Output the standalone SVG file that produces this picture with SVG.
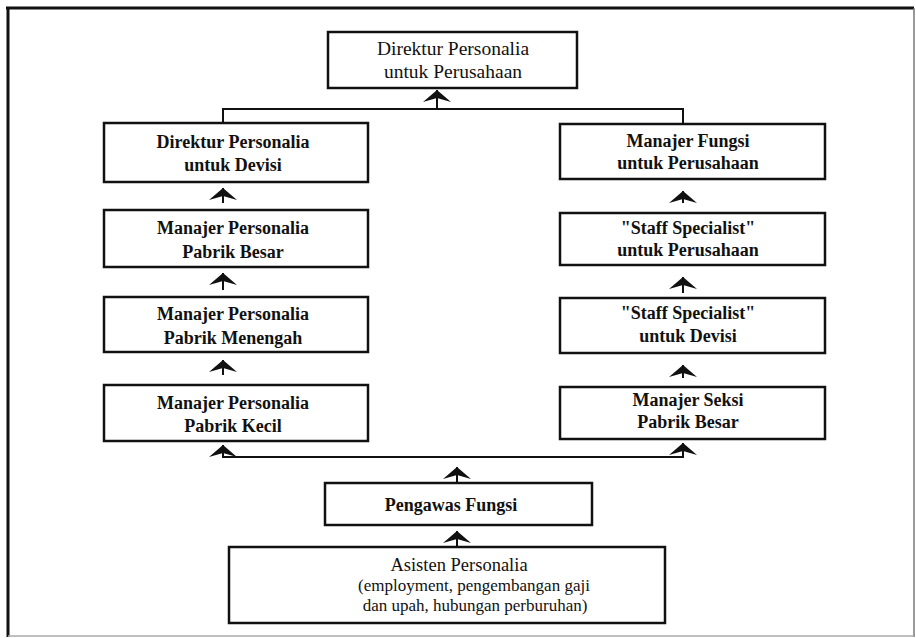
<svg xmlns="http://www.w3.org/2000/svg" width="916" height="638" viewBox="0 0 916 638">
<style>
.box{fill:#fff;stroke:#111;stroke-width:2.5}
.t{font-family:"Liberation Serif","Times New Roman",serif;fill:#111;text-anchor:middle}
.b{font-weight:bold;font-size:18px}
.n{font-weight:normal}
.c{fill:none;stroke:#111;stroke-width:2}
</style>
<defs>
<marker id="ah" viewBox="0 0 12 28" refX="12" refY="14" markerWidth="12" markerHeight="28" markerUnits="userSpaceOnUse" orient="auto">
<path d="M12,14 L0,0 L4,14 L0,28 Z" fill="#111"/>
</marker>
</defs>
<rect width="916" height="638" fill="#fff"/>
<g id="frame">
<line x1="6" y1="8" x2="914" y2="8" stroke="#111" stroke-width="3"/>
<line x1="8" y1="7" x2="8" y2="637" stroke="#111" stroke-width="3"/>
<line x1="914" y1="8" x2="914" y2="637" stroke="#777" stroke-width="1.5"/>
<line x1="8" y1="636" x2="914" y2="636" stroke="#aaa" stroke-width="1.5"/>
</g>
<g id="connectors">
<path class="c" d="M223,123 V109 H683 V124"/>
<line class="c" x1="437" y1="109" x2="437" y2="90" marker-end="url(#ah)"/>
<line class="c" x1="223" y1="203" x2="223" y2="188" marker-end="url(#ah)"/>
<line class="c" x1="223" y1="290" x2="223" y2="273" marker-end="url(#ah)"/>
<line class="c" x1="223" y1="375" x2="223" y2="360" marker-end="url(#ah)"/>
<line class="c" x1="683" y1="203" x2="683" y2="191" marker-end="url(#ah)"/>
<line class="c" x1="683" y1="293" x2="683" y2="277" marker-end="url(#ah)"/>
<line class="c" x1="683" y1="378" x2="683" y2="365" marker-end="url(#ah)"/>
<line class="c" x1="222" y1="457" x2="684" y2="457"/>
<line class="c" x1="223" y1="457" x2="223" y2="445" marker-end="url(#ah)"/>
<line class="c" x1="683" y1="457" x2="683" y2="443" marker-end="url(#ah)"/>
<line class="c" x1="457" y1="483" x2="457" y2="467" marker-end="url(#ah)"/>
<line class="c" x1="457" y1="547" x2="457" y2="531" marker-end="url(#ah)"/>
</g>
<g id="n-top">
<rect class="box" x="328" y="32" width="249" height="56"/>
<text class="t n" font-size="19.5" x="453" y="55">Direktur Personalia</text>
<text class="t n" font-size="19.5" x="453" y="78">untuk Perusahaan</text>
</g>
<g id="n-l1">
<rect class="box" x="104" y="123" width="264" height="59"/>
<text class="t b" x="233" y="148">Direktur Personalia</text>
<text class="t b" x="233" y="171">untuk Devisi</text>
</g>
<g id="n-l2">
<rect class="box" x="104" y="210" width="264" height="57"/>
<text class="t b" x="233" y="234">Manajer Personalia</text>
<text class="t b" x="233" y="258">Pabrik Besar</text>
</g>
<g id="n-l3">
<rect class="box" x="104" y="297" width="264" height="55"/>
<text class="t b" x="233" y="320">Manajer Personalia</text>
<text class="t b" x="233" y="344">Pabrik Menengah</text>
</g>
<g id="n-l4">
<rect class="box" x="104" y="385" width="264" height="56"/>
<text class="t b" x="233" y="409">Manajer Personalia</text>
<text class="t b" x="233" y="432">Pabrik Kecil</text>
</g>
<g id="n-r1">
<rect class="box" x="560" y="124" width="265" height="55"/>
<text class="t b" x="688" y="147">Manajer Fungsi</text>
<text class="t b" x="688" y="169">untuk Perusahaan</text>
</g>
<g id="n-r2">
<rect class="box" x="560" y="213" width="265" height="52"/>
<text class="t b" x="688" y="234">"Staff Specialist"</text>
<text class="t b" x="688" y="256">untuk Perusahaan</text>
</g>
<g id="n-r3">
<rect class="box" x="560" y="298" width="265" height="55"/>
<text class="t b" x="688" y="319">"Staff Specialist"</text>
<text class="t b" x="688" y="342">untuk Devisi</text>
</g>
<g id="n-r4">
<rect class="box" x="560" y="387" width="265" height="52"/>
<text class="t b" x="688" y="406">Manajer Seksi</text>
<text class="t b" x="688" y="428">Pabrik Besar</text>
</g>
<g id="n-pengawas">
<rect class="box" x="325" y="483" width="267" height="42"/>
<text class="t b" font-size="17.5" x="451" y="511">Pengawas Fungsi</text>
</g>
<g id="n-asisten">
<rect class="box" x="229" y="547" width="436" height="76"/>
<text class="t n" font-size="18.5" x="459" y="571">Asisten Personalia</text>
<text class="t n" font-size="17" x="474" y="591">(employment, pengembangan gaji</text>
<text class="t n" font-size="17" x="475" y="611">dan upah, hubungan perburuhan)</text>
</g>
</svg>
